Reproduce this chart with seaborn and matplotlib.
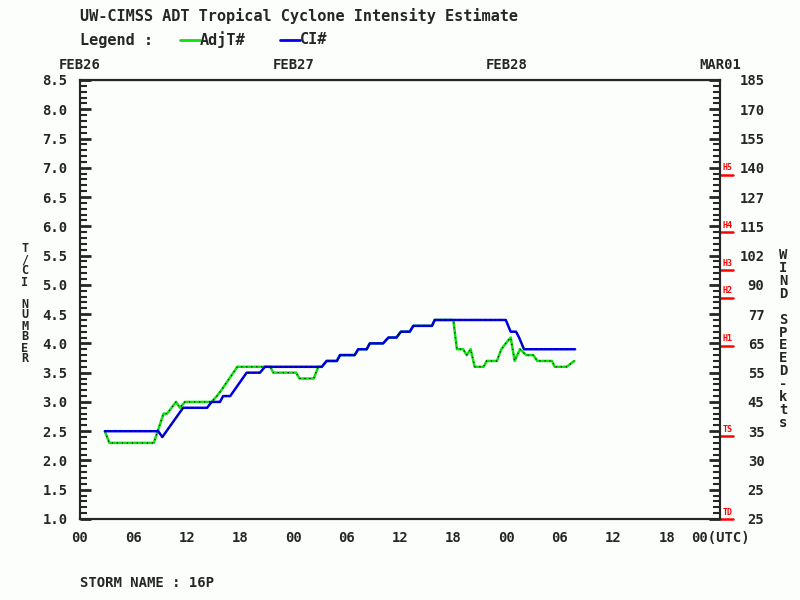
import matplotlib
matplotlib.use("Agg")
import matplotlib.pyplot as plt
import seaborn as sns
import pandas as pd

# ---------------- data ----------------
adjt_hours = [2.8, 3.3, 8.3, 9.4, 9.8, 10.8, 11.25, 11.8, 14.8, 15.4, 15.9, 17.7,
              21.4, 21.75, 24.3, 24.7, 26.3, 26.8, 27.2, 27.75, 28.9, 29.25, 30.9,
              31.3, 32.25, 32.6, 34.1, 34.7, 35.6, 36.1, 37.1, 37.5, 39.6, 39.9,
              42.0, 42.4, 43.1, 43.5, 43.95, 44.4, 45.4, 45.75, 46.9, 47.4, 47.9,
              48.45, 48.9, 49.5, 50.2, 51.0, 51.45, 53.1, 53.4, 54.75, 55.6]
adjt_vals = [2.5, 2.3, 2.3, 2.8, 2.8, 3.0, 2.9, 3.0, 3.0, 3.1, 3.2, 3.6,
             3.6, 3.5, 3.5, 3.4, 3.4, 3.6, 3.6, 3.7, 3.7, 3.8, 3.8,
             3.9, 3.9, 4.0, 4.0, 4.1, 4.1, 4.2, 4.2, 4.3, 4.3, 4.4,
             4.4, 3.9, 3.9, 3.8, 3.9, 3.6, 3.6, 3.7, 3.7, 3.9, 4.0,
             4.1, 3.7, 3.9, 3.8, 3.8, 3.7, 3.7, 3.6, 3.6, 3.7]

ci_hours = [2.8, 8.8, 9.26, 11.6, 14.3, 14.8, 15.75, 16.1, 16.9, 18.75, 20.25,
            20.8, 27.2, 27.75, 28.9, 29.25, 30.9, 31.3, 32.25, 32.6, 34.1, 34.7,
            35.6, 36.1, 37.1, 37.5, 39.6, 39.9, 47.9, 48.45, 49.05, 49.4, 49.95,
            55.7]
ci_vals = [2.5, 2.5, 2.4, 2.9, 2.9, 3.0, 3.0, 3.1, 3.1, 3.5, 3.5,
           3.6, 3.6, 3.7, 3.7, 3.8, 3.8, 3.9, 3.9, 4.0, 4.0, 4.1,
           4.1, 4.2, 4.2, 4.3, 4.3, 4.4, 4.4, 4.2, 4.2, 4.1, 3.9,
           3.9]

left_ticks = [1.0, 1.5, 2.0, 2.5, 3.0, 3.5, 4.0, 4.5, 5.0, 5.5, 6.0, 6.5, 7.0, 7.5, 8.0, 8.5]
wind_labels = ["25", "25", "30", "35", "45", "55", "65", "77", "90", "102",
               "115", "127", "140", "155", "170", "185"]
hour_ticks = [0, 6, 12, 18, 24, 30, 36, 42, 48, 54, 60, 66, 72]
hour_labels = ["00", "06", "12", "18", "00", "06", "12", "18", "00", "06", "12", "18", "00(UTC)"]
date_ticks = [0, 24, 48, 72]
date_labels = ["FEB26", "FEB27", "FEB28", "MAR01"]
cat_levels = [1.0, 2.42, 3.96, 4.78, 5.25, 5.9, 6.88]
cat_labels = ["TD", "TS", "H1", "H2", "H3", "H4", "H5"]

# ---------------- style ----------------
sns.set_style("white")
plt.rcParams['font.family'] = ['DejaVu Sans Mono']
plt.rcParams['font.weight'] = 'bold'
BG = '#fcfefc'
GREEN = '#10e010'
BLUE = '#0000f0'

fig = plt.figure(figsize=(8, 6), dpi=100, facecolor=BG)
ax = fig.add_axes([0.1, 0.135, 0.8, 0.7317])
ax.set_facecolor(BG)

df_a = pd.DataFrame({"hour": adjt_hours, "value": adjt_vals})
df_c = pd.DataFrame({"hour": ci_hours, "value": ci_vals})

sns.lineplot(data=df_a, x="hour", y="value", color=GREEN, linewidth=1.8,
             estimator=None, sort=False, ax=ax, zorder=3)
sns.lineplot(data=df_a, x="hour", y="value", color='black', linewidth=0.8,
             linestyle=(0, (1, 3.5)), estimator=None, sort=False, ax=ax, zorder=4)
sns.lineplot(data=df_c, x="hour", y="value", color=BLUE, linewidth=1.8,
             estimator=None, sort=False, ax=ax, zorder=5)
sns.lineplot(data=df_c, x="hour", y="value", color='black', linewidth=0.8,
             linestyle=(0, (1, 3.5)), estimator=None, sort=False, ax=ax, zorder=6)

ax.set_xlim(0, 72)
ax.set_ylim(1.0, 8.5)
ax.set_xlabel("")
ax.set_ylabel("")
for s in ax.spines.values():
    s.set_visible(True)
    s.set_color('black')
    s.set_linewidth(1.5)

ax.set_xticks(hour_ticks)
ax.set_xticklabels(hour_labels, fontsize=10, fontweight='bold')
ax.tick_params(axis='x', length=0, pad=9)

ax.set_yticks(left_ticks)
ax.set_yticklabels([f"{v:.1f}" for v in left_ticks], fontsize=10, fontweight='bold')
ax.set_yticks([1.0 + 0.1 * i for i in range(76)], minor=True)
ax.tick_params(axis='y', which='major', direction='in', length=8, width=2, pad=9)
ax.tick_params(axis='y', which='minor', direction='in', length=5, width=1.5)

ax2 = ax.twinx()
ax2.set_ylim(1.0, 8.5)
ax2.set_yticks(left_ticks)
ax2.set_yticklabels(wind_labels, fontsize=10, fontweight='bold', ha='right')
ax2.set_yticks([1.0 + 0.1 * i for i in range(76)], minor=True)
ax2.tick_params(axis='y', which='major', direction='in', length=8, width=2, pad=32)
ax2.tick_params(axis='y', which='minor', direction='in', length=5, width=1.5)
for s in ax2.spines.values():
    s.set_linewidth(1.5)

top = ax.secondary_xaxis('top')
top.set_xticks(date_ticks)
top.set_xticklabels(date_labels, fontsize=10, fontweight='bold')
top.tick_params(length=0, pad=6)

# category markers at the right axis
tr = ax.get_yaxis_transform()
for lv, lab in zip(cat_levels, cat_labels):
    ax.plot([1.0, 1.021], [lv, lv], color='red', lw=1.8, transform=tr, clip_on=False, zorder=10)
    ax.text(1.004, lv + 0.04, lab, color='red', fontsize=6, fontweight='bold',
            transform=tr, ha='left', va='bottom', clip_on=False)

# titles and labels
fig.text(0.1, 1 - 16 / 600, "UW-CIMSS ADT Tropical Cyclone Intensity Estimate",
         fontsize=11, fontweight='bold', va='center', ha='left')
fig.text(0.1, 1 - 40 / 600, "Legend :", fontsize=11, fontweight='bold', va='center', ha='left')
fig.add_artist(plt.Line2D([180 / 800, 200 / 800], [1 - 40 / 600, 1 - 40 / 600], color=GREEN, lw=2))
fig.text(200 / 800, 1 - 40 / 600, "AdjT#", fontsize=11, fontweight='bold', va='center', ha='left')
fig.add_artist(plt.Line2D([280 / 800, 300 / 800], [1 - 40 / 600, 1 - 40 / 600], color=BLUE, lw=2))
fig.text(300 / 800, 1 - 40 / 600, "CI#", fontsize=11, fontweight='bold', va='center', ha='left')

fig.text(25 / 800, 1 - 304 / 600, "\n".join("T/CI NUMBER"), fontsize=8.5, fontweight='bold',
         ha='center', va='center', linespacing=0.8)
fig.text(783 / 800, 1 - 339 / 600, "\n".join("WIND SPEED-kts"), fontsize=10, fontweight='bold',
         ha='center', va='center', linespacing=0.9)

fig.text(0.1, 1 - 583 / 600, "STORM NAME : 16P", fontsize=10, fontweight='bold',
         va='center', ha='left')

fig.savefig("out.png", dpi=100, facecolor=BG)
